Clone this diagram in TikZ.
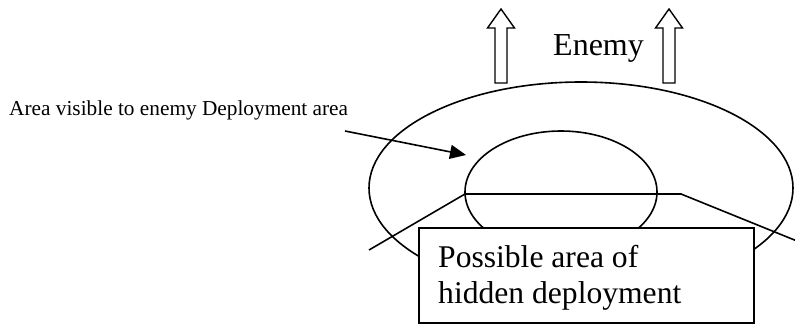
\documentclass[tikz,border=0pt]{standalone}
\usepackage{fontspec}
\setmainfont{Liberation Serif}
\usetikzlibrary{arrows.meta}
\begin{document}
\begin{tikzpicture}[x=1pt,y=-1pt,
  ln/.style={line width=1.6pt, line join=miter},
  hollowarrow/.style={line width=1.4pt, fill=white},
  boxst/.style={draw, line width=1.8pt, fill=white, inner sep=0pt},
  bigtxt/.style={font=\fontsize{31.6}{36}\selectfont, inner sep=0pt},
  smalltxt/.style={font=\fontsize{21.3}{24}\selectfont, inner sep=0pt}]
\useasboundingbox (0,0) rectangle (795,325);
% ellipses
\draw[ln] (581,188) ellipse [x radius=212, y radius=106];
\draw[ln] (561,192) ellipse [x radius=96, y radius=61];
% boundary polyline
\coordinate (pa) at (369,250);
\coordinate (pb) at (465,194);
\coordinate (pc) at (681,194);
\coordinate (pd) at (797,241);
\draw[ln] (pa) -- (pb) -- (pc) -- (pd);
% hollow arrows
\draw[hollowarrow] (495,83) -- (495,28) -- (487.5,28) -- (501,9) -- (514.5,28) -- (507,28) -- (507,83) -- cycle;
\draw[hollowarrow] (663,83) -- (663,28) -- (655.5,28) -- (669,9) -- (682.5,28) -- (675,28) -- (675,83) -- cycle;
\node[font=\fontsize{32}{36}\selectfont, inner sep=0pt, anchor=base west] (enemy) at (553,55) {Enemy};
% label and pointer
\node[smalltxt, anchor=base west] (lbl) at (9,115) {Area visible to enemy Deployment area};
\coordinate (ps) at (345,131);
\coordinate (pt) at (466,155);
\draw[ln, -{Triangle[length=16pt,width=14pt]}] (ps) -- (pt);
% box
\node[boxst, anchor=north west, minimum width=335pt, minimum height=95pt] (box) at (418,227) {};
\node[bigtxt, anchor=base west] (txta) at (438,267) {Possible area of};
\node[bigtxt, anchor=base west] (txtb) at (438,303) {hidden deployment};
\end{tikzpicture}
\end{document}
